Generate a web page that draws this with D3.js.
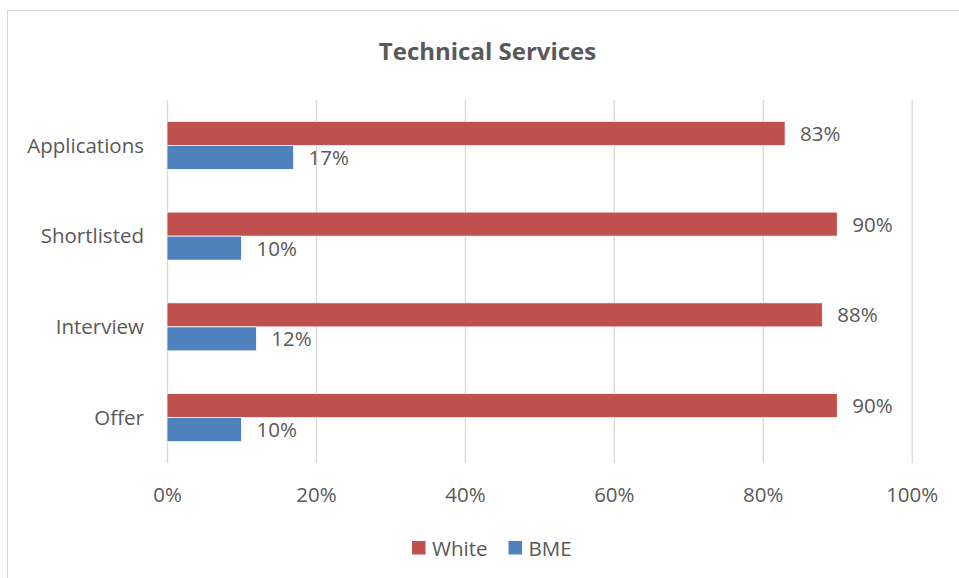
<!DOCTYPE html>
<html><head><meta charset="utf-8">
<script src="https://cdn.jsdelivr.net/npm/d3@7"></script>
<style>
html,body{margin:0;padding:0;background:#fff;}
svg{display:block;}
text{font-family:"Open Sans",sans-serif;fill:#595959;}
</style></head>
<body>
<svg id="chart" width="959" height="578"></svg>
<script>
const title = "Technical Services";
const categories = ["Applications", "Shortlisted", "Interview", "Offer"];
const seriesNames = ["White", "BME"];
const whiteValues = [0.83, 0.90, 0.88, 0.90];
const bmeValues = [0.17, 0.10, 0.12, 0.10];
const xTicks = [0, 0.2, 0.4, 0.6, 0.8, 1.0];
const colors = {"White": "#C0504D", "BME": "#4F81BD"};

const svg = d3.select("#chart");
const W = 959, H = 578;
const plot = {left: 167, right: 911.7, top: 100, bottom: 463};

// chart border
svg.append("rect").attr("x", 7.5).attr("y", 10.5).attr("width", W + 10).attr("height", H + 10)
  .attr("fill", "#fff").attr("stroke", "#D9D9D9").attr("stroke-width", 1);

svg.append("text").attr("x", 487.5).attr("y", 60).attr("text-anchor", "middle")
  .style("font-size", "24px").style("font-weight", "bold").text(title);

const x = d3.scaleLinear().domain([0, 1]).range([plot.left, plot.right]);
const y = d3.scaleBand().domain(categories).range([plot.top, plot.bottom]).padding(0);
const y1 = d3.scaleBand().domain(seriesNames).range([0, y.bandwidth()]).paddingInner(0).paddingOuter(0.89);

// gridlines
const grid = svg.append("g").attr("transform", `translate(0,${plot.bottom})`)
  .call(d3.axisBottom(x).tickValues(xTicks).tickSize(-(plot.bottom - plot.top)).tickFormat(""));
grid.select(".domain").remove();
grid.selectAll("line").attr("stroke", "#D9D9D9").attr("stroke-width", 1.3);

// x axis labels
const xa = svg.append("g").attr("transform", `translate(0,${plot.bottom})`)
  .call(d3.axisBottom(x).tickValues(xTicks).tickSize(0).tickPadding(0).tickFormat(d3.format(".0%")));
xa.select(".domain").remove();
xa.selectAll("text").attr("dy", 0).attr("y", 39).style("font-size", "20.5px").attr("fill", "#595959")
  .style("font-family", "'Open Sans',sans-serif");

// category labels
const ya = svg.append("g").attr("transform", `translate(${plot.left},0)`)
  .call(d3.axisLeft(y).tickSize(0).tickPadding(23));
ya.select(".domain").remove();
ya.selectAll("text").style("font-size", "20.5px").attr("fill", "#595959")
  .style("font-family", "'Open Sans',sans-serif").attr("dy", "0.35em");

const seriesData = {"White": whiteValues, "BME": bmeValues};
const rows = [];
categories.forEach((c, i) => seriesNames.forEach(s => rows.push({cat: c, s: s, v: seriesData[s][i]})));

const bars = svg.append("g");
bars.selectAll("rect").data(rows).join("rect")
  .attr("x", x(0))
  .attr("y", d => y(d.cat) + y1(d.s))
  .attr("width", d => x(d.v) - x(0))
  .attr("height", y1.bandwidth())
  .attr("fill", d => colors[d.s])
  .attr("stroke", "#fff").attr("stroke-width", 0.75);

svg.append("g").selectAll("text").data(rows).join("text")
  .attr("x", d => x(d.v) + 15)
  .attr("y", d => y(d.cat) + y1(d.s) + y1.bandwidth() / 2)
  .attr("dy", "0.36em")
  .style("font-size", "20.5px")
  .text(d => d3.format(".0%")(d.v));

// legend
const legendItems = [{name: "White", sq: 412, tx: 432}, {name: "BME", sq: 508.5, tx: 528.5}];
const lg = svg.append("g");
legendItems.forEach(it => {
  lg.append("rect").attr("x", it.sq).attr("y", 541).attr("width", 13.5).attr("height", 13.5).attr("fill", colors[it.name]);
  lg.append("text").attr("x", it.tx).attr("y", 555.5).style("font-size", "20.5px").text(it.name);
});
</script>
</body></html>
